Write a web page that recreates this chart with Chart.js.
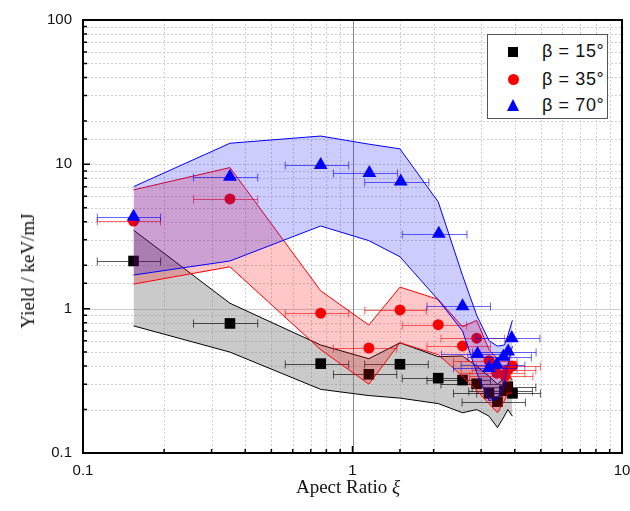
<!DOCTYPE html>
<html>
<head>
<meta charset="utf-8">
<script src="https://cdn.jsdelivr.net/npm/chart.js@4.4.0/dist/chart.umd.min.js"></script>
<style>
html,body{margin:0;padding:0;background:#fff;}
#wrap{position:relative;width:630px;height:511px;overflow:hidden;}
#c{position:absolute;left:0;top:0;}
#legend{position:absolute;left:487px;top:34px;width:121px;height:85px;border:1px solid #555;background:#fff;box-sizing:border-box;font-family:"Liberation Sans",Arial,sans-serif;font-size:18px;letter-spacing:0.6px;color:#111;}
.row{position:absolute;left:0;height:20px;width:120px;}
.row span{position:absolute;left:54px;top:-1px;line-height:20px;white-space:nowrap;}
.mk{position:absolute;}
.sq{left:20px;top:5px;width:10px;height:10px;background:#000;}
.ci{left:20px;top:4px;width:11px;height:11px;border-radius:50%;background:#f00;}
.tr{left:19px;top:3px;width:0;height:0;border-left:6.5px solid transparent;border-right:6.5px solid transparent;border-bottom:12px solid #00f;}
.title{position:absolute;font-family:"Liberation Serif","Times New Roman",serif;font-size:19px;color:#111;white-space:nowrap;}
#xt{left:348px;top:487px;transform:translate(-50%,-50%);}
#yt{left:28px;top:271px;transform:translate(-50%,-50%) rotate(-90deg);}
</style>
</head>
<body>
<div id="wrap">
<canvas id="c" width="630" height="511"></canvas>
<div id="legend">
  <div class="row" style="top:7px"><div class="mk sq"></div><span>β = 15°</span></div>
  <div class="row" style="top:35px"><div class="mk ci"></div><span>β = 35°</span></div>
  <div class="row" style="top:61px"><div class="mk tr"></div><span>β = 70°</span></div>
</div>
<div class="title" id="xt">Apect Ratio <i>ξ</i></div>
<div class="title" id="yt">Yield / keV/mJ</div>
</div>
<script>
// ---- Data ----
const seriesLabels = ['β = 15°', 'β = 35°', 'β = 70°'];
const xTickLabels = ['0.1', '1', '10'];
const yTickLabels = ['0.1', '1', '10', '100'];

// shaded band vertices (aspect ratio positions)
const bandX = [0.154, 0.351, 0.762, 1.15, 1.5, 2.08, 2.56, 2.89, 3.21, 3.45, 3.66, 3.77, 3.92];
const band15Upper = [3.5, 1.09, 0.56, 0.45, 0.58, 0.465, 0.47, 0.40, 0.34, 0.30, 0.33, 0.35, 0.32];
const band15Lower = [0.76, 0.50, 0.276, 0.25, 0.24, 0.22, 0.19, 0.20, 0.18, 0.15, 0.18, 0.20, 0.18];
const band35Upper = [6.65, 9.5, 1.33, 0.77, 1.41, 1.16, 0.75, 0.83, 0.52, 0.45, 0.50, 0.55, 0.50];
const band35Lower = [1.48, 1.95, 0.52, 0.30, 0.58, 0.48, 0.34, 0.27, 0.22, 0.19, 0.23, 0.26, 0.26];
const band70Upper = [7.0, 14.0, 15.7, 13.8, 12.8, 5.5, 1.7, 0.9, 0.6, 0.55, 0.56, 0.65, 0.83];
const band70Lower = [1.71, 2.14, 3.74, 2.96, 2.29, 1.15, 0.70, 0.36, 0.23, 0.24, 0.30, 0.40, 0.55];

// beta = 15 deg
const x15 = [0.154, 0.351, 0.762, 1.15, 1.50, 2.08, 2.56, 2.89, 3.21, 3.45, 3.66, 3.77, 3.92];
const y15 = [2.14, 0.79, 0.416, 0.351, 0.412, 0.33, 0.32, 0.302, 0.259, 0.227, 0.27, 0.288, 0.259];
const x15Lo = [0.113, 0.257, 0.563, 0.85, 1.11, 1.53, 1.89, 2.13, 2.37, 2.55, 2.70, 2.78, 2.89];
const x15Hi = [0.194, 0.445, 0.968, 1.46, 1.91, 2.65, 3.25, 3.67, 4.08, 4.38, 4.65, 4.79, 4.98];

// beta = 35 deg
const x35 = [0.154, 0.351, 0.762, 1.15, 1.50, 2.08, 2.56, 2.89, 3.21, 3.43, 3.68, 3.77, 3.92];
const y35 = [4.05, 5.76, 0.93, 0.534, 0.98, 0.775, 0.552, 0.624, 0.436, 0.357, 0.343, 0.376, 0.40];
const x35Lo = [0.113, 0.257, 0.563, 0.85, 1.11, 1.53, 1.89, 2.13, 2.37, 2.53, 2.72, 2.78, 2.89];
const x35Hi = [0.194, 0.445, 0.968, 1.46, 1.88, 2.65, 3.25, 3.67, 4.08, 4.36, 4.67, 4.79, 4.98];

// beta = 70 deg
const x70 = [0.154, 0.351, 0.762, 1.155, 1.51, 2.09, 2.56, 2.91, 3.21, 3.43, 3.63, 3.78, 3.90];
const y70 = [4.34, 8.2, 9.9, 8.7, 7.6, 3.3, 1.04, 0.485, 0.388, 0.41, 0.465, 0.504, 0.624];
const x70Lo = [0.113, 0.257, 0.563, 0.85, 1.11, 1.53, 1.89, 2.14, 2.37, 2.53, 2.68, 2.79, 2.88];
const x70Hi = [0.194, 0.445, 0.968, 1.47, 1.92, 2.66, 3.25, 3.70, 4.08, 4.36, 4.61, 4.80, 4.96];

const pts = (xs, ys) => xs.map((x, i) => ({x: x, y: ys[i]}));

function bandDatasets(upper, lower, color, fillColor, ord) {
  return [
    {type:'line', data: pts(bandX, upper), borderColor: color, borderWidth: 1, backgroundColor: fillColor,
     fill: '+1', pointRadius: 0, tension: 0, order: ord + 2},
    {type:'line', data: pts(bandX, lower), borderColor: color, borderWidth: 1, backgroundColor: fillColor,
     fill: false, pointRadius: 0, tension: 0, order: ord + 1}
  ];
}
function pointDataset(xs, ys, lo, hi, style, radius, color, errColor, ord, label) {
  return {type:'line', label: label, data: pts(xs, ys), showLine: false, pointStyle: style, pointRadius: radius,
    pointBackgroundColor: color, pointBorderColor: color, pointBorderWidth: 0, xLo: lo, xHi: hi,
    errColor: errColor, order: ord};
}

const datasets = [
  ...bandDatasets(band15Upper, band15Lower, '#000000', 'rgba(128,128,128,0.42)', 10),
  pointDataset(x15, y15, x15Lo, x15Hi, 'rect', 7.5, '#000000', 'rgba(0,0,0,0.65)', 10, seriesLabels[0]),
  ...bandDatasets(band35Upper, band35Lower, '#ff0000', 'rgba(255,0,0,0.22)', 5),
  pointDataset(x35, y35, x35Lo, x35Hi, 'circle', 5.5, '#ff0000', 'rgba(255,0,0,0.6)', 5, seriesLabels[1]),
  ...bandDatasets(band70Upper, band70Lower, '#0000ff', 'rgba(0,0,255,0.2)', 0),
  pointDataset(x70, y70, x70Lo, x70Hi, 'triangle', 8, '#0000ff', 'rgba(0,0,255,0.6)', 0, seriesLabels[2]),
];

const isMajor = v => Math.abs(Math.log10(v) - Math.round(Math.log10(v))) < 1e-6;

const errorBars = {
  id: 'errorBars',
  beforeDatasetDraw(chart, args) {
    const ds = chart.data.datasets[args.index];
    if (!ds.xLo) return;
    const xs = chart.scales.x, ys = chart.scales.y, ctx = chart.ctx;
    ctx.save();
    ctx.beginPath();
    ctx.rect(chart.chartArea.left, chart.chartArea.top, chart.chartArea.width, chart.chartArea.height);
    ctx.clip();
    ctx.strokeStyle = ds.errColor;
    ctx.lineWidth = 1;
    ds.data.forEach((p, i) => {
      const y = Math.round(ys.getPixelForValue(p.y)) + 0.5;
      const a = xs.getPixelForValue(ds.xLo[i]), b = xs.getPixelForValue(ds.xHi[i]);
      ctx.beginPath();
      ctx.moveTo(a, y); ctx.lineTo(b, y);
      ctx.moveTo(a, y - 4); ctx.lineTo(a, y + 4);
      ctx.moveTo(b, y - 4); ctx.lineTo(b, y + 4);
      ctx.stroke();
    });
    ctx.restore();
  }
};

const frame = {
  id: 'frame',
  beforeDatasetsDraw(chart) {
    const {ctx, chartArea: ca, scales: {x, y}} = chart;
    ctx.save();
    ctx.lineWidth = 1;
    ctx.setLineDash([2, 2]);
    ctx.strokeStyle = '#cfcfcf';
    x.ticks.forEach(t => {
      const px = Math.round(x.getPixelForValue(t.value)) + 0.5;
      if (px <= ca.left + 1 || px >= ca.right - 1) return;
      ctx.beginPath(); ctx.moveTo(px, ca.top); ctx.lineTo(px, ca.bottom); ctx.stroke();
    });
    y.ticks.forEach(t => {
      const py = Math.round(y.getPixelForValue(t.value)) + 0.5;
      if (py <= ca.top + 1 || py >= ca.bottom - 1) return;
      ctx.beginPath(); ctx.moveTo(ca.left, py); ctx.lineTo(ca.right, py); ctx.stroke();
    });
    ctx.setLineDash([]);
    const p1y = Math.round(y.getPixelForValue(1)) + 0.5;
    ctx.strokeStyle = '#cccccc';
    ctx.beginPath(); ctx.moveTo(ca.left, p1y); ctx.lineTo(ca.right, p1y); ctx.stroke();
    const p1x = Math.round(x.getPixelForValue(1)) + 0.5;
    ctx.strokeStyle = '#8a8a8a';
    ctx.beginPath(); ctx.moveTo(p1x, ca.top); ctx.lineTo(p1x, ca.bottom); ctx.stroke();
    ctx.restore();
  },
  afterDatasetsDraw(chart) {
    const {ctx, chartArea: ca, scales: {x, y}} = chart;
    ctx.save();
    ctx.strokeStyle = '#000';
    ctx.lineWidth = 1.5;
    ctx.beginPath();
    x.ticks.forEach(t => {
      const px = x.getPixelForValue(t.value);
      const len = isMajor(t.value) ? 7 : 4;
      ctx.moveTo(px, ca.bottom); ctx.lineTo(px, ca.bottom - len);
    });
    y.ticks.forEach(t => {
      const py = y.getPixelForValue(t.value);
      const len = isMajor(t.value) ? 7 : 4;
      ctx.moveTo(ca.left, py); ctx.lineTo(ca.left + len, py);
    });
    ctx.stroke();
    ctx.lineWidth = 2;
    ctx.strokeRect(ca.left, ca.top, ca.width, ca.height);
    ctx.restore();
  }
};

const tickFont = {family: '"Liberation Sans", Arial, sans-serif', size: 15};
const dims = {yW: 83, xH: 58};
const layoutPad = {left: 0, right: 8, top: 20, bottom: 0};

const chart = new Chart(document.getElementById('c'), {
  type: 'line',
  data: {datasets: datasets},
  options: {
    responsive: false,
    animation: false,
    events: [],
    layout: {padding: layoutPad},
    plugins: {legend: {display: false}, tooltip: {enabled: false}},
    scales: {
      x: {
        type: 'logarithmic', min: 0.1, max: 10,
        grid: {display: false, drawTicks: false},
        border: {display: false},
        ticks: {autoSkip: false, maxRotation: 0, padding: 9, color: '#111', font: tickFont,
          callback: v => { const s = String(v); return isMajor(v) && xTickLabels.includes(s) ? s : ''; }},
        afterFit: s => { s.height = dims.xH; s.paddingLeft = 0; s.paddingRight = 0; }
      },
      y: {
        type: 'logarithmic', min: 0.1, max: 100,
        grid: {display: false, drawTicks: false},
        border: {display: false},
        ticks: {autoSkip: false, padding: 11, color: '#111', font: tickFont,
          callback: v => { const s = String(v); return isMajor(v) && yTickLabels.includes(s) ? s : ''; }},
        afterFit: s => { s.width = dims.yW; s.paddingTop = 0; s.paddingBottom = 0; }
      }
    }
  },
  plugins: [errorBars, frame]
});

// align the plot area with the reference frame (left 83, right 622, top 20, bottom 453)
for (let k = 0; k < 4; k++) {
  const ca = chart.chartArea;
  const pad = chart.config.options.layout.padding;
  dims.yW += 83 - ca.left;
  pad.right += ca.right - 622;
  pad.top += 20 - ca.top;
  dims.xH += ca.bottom - 453;
  chart.update();
}
</script>
</body>
</html>
